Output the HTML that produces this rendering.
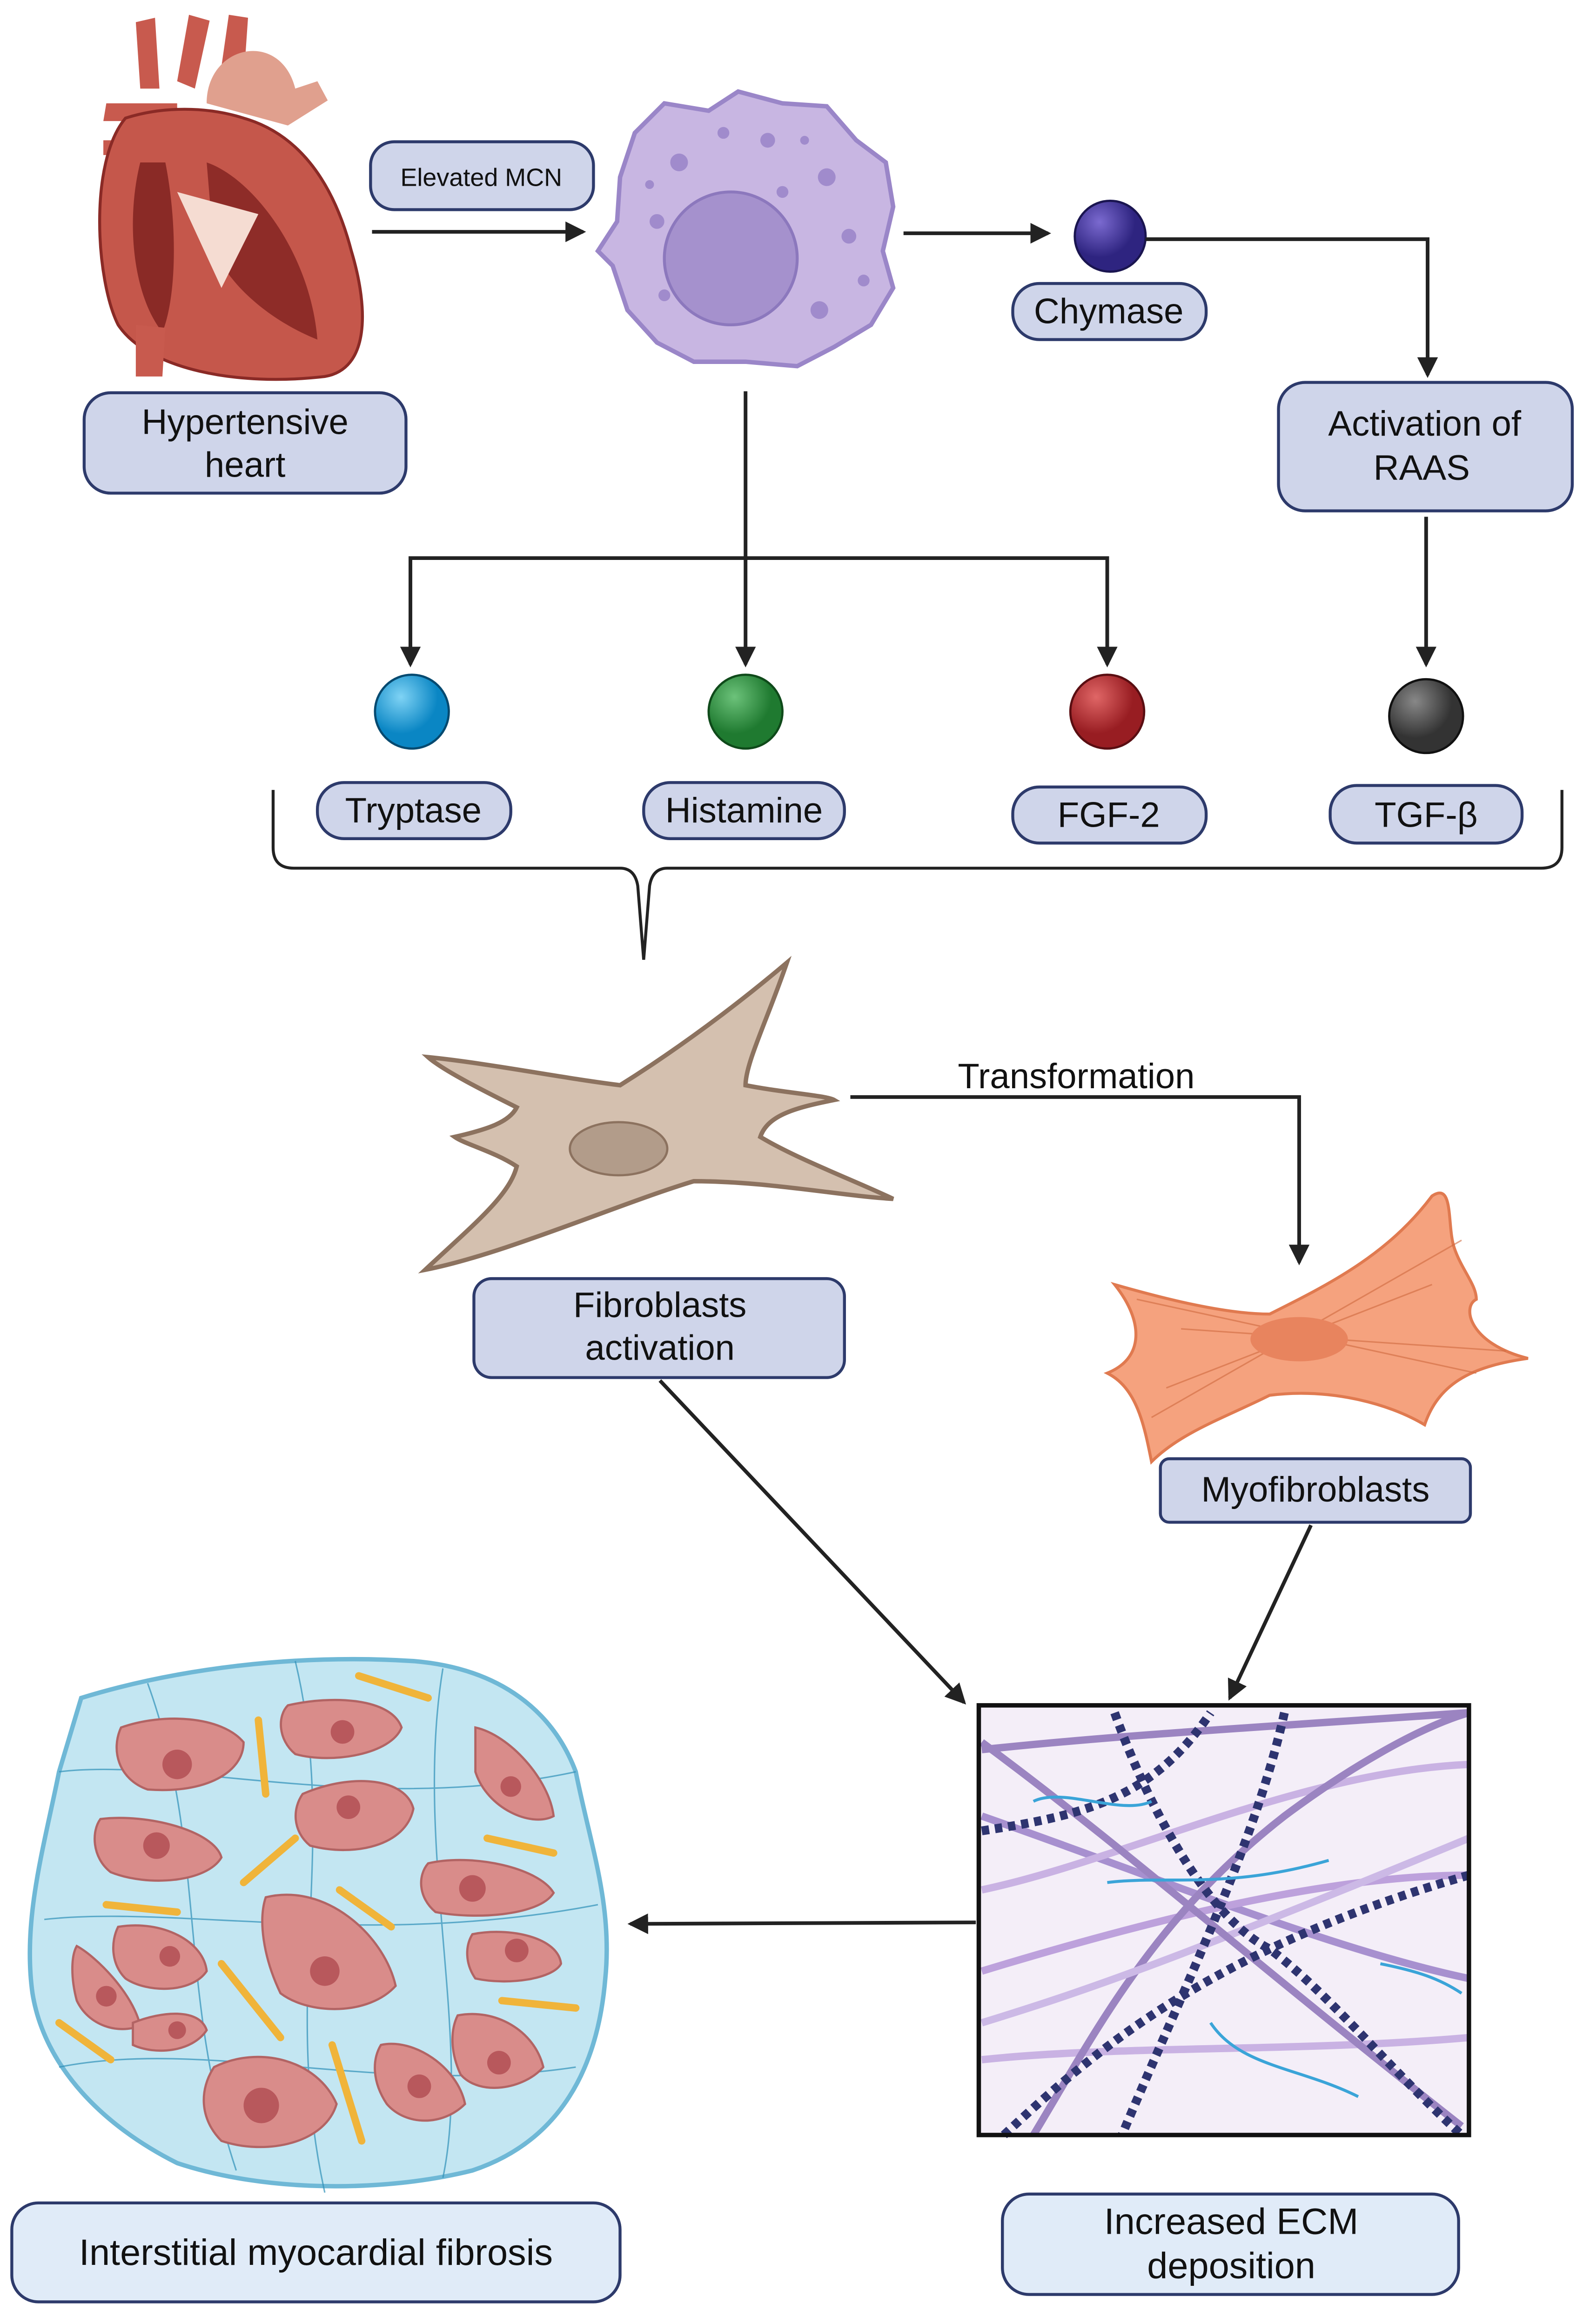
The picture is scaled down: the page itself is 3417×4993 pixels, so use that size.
<!DOCTYPE html>
<html><head><meta charset="utf-8"><style>
html,body{margin:0;padding:0;background:#fff;}
svg{display:block;}
text{font-family:"Liberation Sans",sans-serif;fill:#111;}
</style></head><body>
<svg width="3417" height="4993" viewBox="0 0 1077 1574" preserveAspectRatio="none" xmlns="http://www.w3.org/2000/svg">
<defs>
<marker id="ah" markerWidth="8" markerHeight="8" refX="6" refY="4" orient="auto" markerUnits="userSpaceOnUse"><path d="M0,0 L8,4 L0,8 z" fill="#222"/></marker>
<marker id="ah2" markerWidth="14" markerHeight="14" refX="12" refY="7" orient="auto" markerUnits="userSpaceOnUse"><path d="M0,0 L14,7 L0,14 z" fill="#222"/></marker>
<radialGradient id="gB" cx="35%" cy="30%"><stop offset="0" stop-color="#7fd3f5"/><stop offset="1" stop-color="#0a86c4"/></radialGradient>
<radialGradient id="gG" cx="35%" cy="30%"><stop offset="0" stop-color="#6cc27a"/><stop offset="1" stop-color="#1f7a30"/></radialGradient>
<radialGradient id="gR" cx="35%" cy="30%"><stop offset="0" stop-color="#e06666"/><stop offset="1" stop-color="#981d22"/></radialGradient>
<radialGradient id="gK" cx="35%" cy="30%"><stop offset="0" stop-color="#888"/><stop offset="1" stop-color="#333"/></radialGradient>
<radialGradient id="gP" cx="35%" cy="30%"><stop offset="0" stop-color="#7b6ad0"/><stop offset="1" stop-color="#2e2480"/></radialGradient>
</defs>

<!-- Heart -->
<g>
<path d="M95,60 L92,15 L105,12 L108,60 Z" fill="#c85a4e"/>
<path d="M120,55 L128,10 L142,14 L132,60 Z" fill="#c85a4e"/>
<path d="M150,45 L155,10 L168,12 L165,55 Z" fill="#c85a4e"/>
<path d="M140,70 C140,30 190,20 200,60 L215,55 L222,68 L195,85 Z" fill="#e0a08e"/>
<path d="M72,70 L120,70 L120,82 L70,82 Z M70,95 L110,95 L110,105 L70,105 Z" fill="#c85a4e"/>
<path d="M85,80 C60,110 65,190 80,220 C100,250 160,262 220,255 C250,250 250,210 238,170 C225,120 200,90 165,80 C140,72 110,72 85,80 Z" fill="#c5574b" stroke="#8a2a26" stroke-width="2"/>
<path d="M95,110 C85,150 90,200 110,225 C120,200 120,150 112,110 Z" fill="#8a2a26"/>
<path d="M140,110 C170,120 210,170 215,230 C190,220 160,200 145,170 Z" fill="#8e2c28"/>
<path d="M120,130 L175,145 L150,195 Z" fill="#f5dcd2"/>
<path d="M92,220 L92,255 L110,255 L112,222 Z" fill="#c85a4e"/>
</g>
<rect x="57" y="266" width="218" height="68" rx="18" fill="#cfd5ea" stroke="#2d3a6b" stroke-width="2"/>
<text x="166" y="294" font-size="24" text-anchor="middle">Hypertensive</text>
<text x="166" y="323" font-size="24" text-anchor="middle">heart</text>

<rect x="251" y="96" width="151" height="46" rx="16" fill="#cfd5ea" stroke="#2d3a6b" stroke-width="2"/>
<text x="326" y="126" font-size="17" text-anchor="middle">Elevated MCN</text>
<line x1="252" y1="157" x2="395" y2="157" stroke="#222" stroke-width="2.5" marker-end="url(#ah2)"/>

<!-- Mast cell -->
<path d="M430,90 L450,70 L480,75 L500,62 L530,70 L560,72 L580,95 L600,110 L605,140 L598,170 L605,195 L590,220 L565,235 L540,248 L505,245 L470,245 L445,232 L425,210 L415,180 L405,170 L418,150 L420,120 Z" fill="#c8b6e2" stroke="#9a86c8" stroke-width="3"/>
<circle cx="495" cy="175" r="45" fill="#a591cd" stroke="#8c78bd" stroke-width="2"/>
<g fill="#a08bcc">
<circle cx="460" cy="110" r="6"/><circle cx="520" cy="95" r="5"/><circle cx="560" cy="120" r="6"/><circle cx="575" cy="160" r="5"/><circle cx="445" cy="150" r="5"/><circle cx="555" cy="210" r="6"/><circle cx="450" cy="200" r="4"/><circle cx="490" cy="90" r="4"/><circle cx="585" cy="190" r="4"/><circle cx="530" cy="130" r="4"/><circle cx="440" cy="125" r="3"/><circle cx="545" cy="95" r="3"/>
</g>
<line x1="612" y1="158" x2="710" y2="158" stroke="#222" stroke-width="2.5" marker-end="url(#ah2)"/>

<circle cx="752" cy="160" r="24" fill="url(#gP)" stroke="#1a1550" stroke-width="1.5"/>
<rect x="686" y="192" width="131" height="38" rx="18" fill="#cfd5ea" stroke="#2d3a6b" stroke-width="2"/>
<text x="751" y="219" font-size="24" text-anchor="middle">Chymase</text>
<polyline points="776,162 967,162 967,254" fill="none" stroke="#222" stroke-width="2.5" marker-end="url(#ah2)"/>

<rect x="866" y="259" width="199" height="87" rx="18" fill="#cfd5ea" stroke="#2d3a6b" stroke-width="2"/>
<text x="965" y="295" font-size="24" text-anchor="middle">Activation of</text>
<text x="963" y="325" font-size="24" text-anchor="middle">RAAS</text>
<line x1="966" y1="350" x2="966" y2="450" stroke="#222" stroke-width="2.5" marker-end="url(#ah2)"/>

<line x1="505" y1="265" x2="505" y2="450" stroke="#222" stroke-width="2.5" marker-end="url(#ah2)"/>
<polyline points="278,450 278,378 750,378 750,450" fill="none" stroke="#222" stroke-width="2.5"/>
<line x1="278" y1="420" x2="278" y2="450" stroke="#222" stroke-width="2.5" marker-end="url(#ah2)"/>
<line x1="750" y1="420" x2="750" y2="450" stroke="#222" stroke-width="2.5" marker-end="url(#ah2)"/>

<circle cx="279" cy="482" r="25" fill="url(#gB)" stroke="#064a70" stroke-width="1.5"/>
<circle cx="505" cy="482" r="25" fill="url(#gG)" stroke="#0f4a1a" stroke-width="1.5"/>
<circle cx="750" cy="482" r="25" fill="url(#gR)" stroke="#5a0e12" stroke-width="1.5"/>
<circle cx="966" cy="485" r="25" fill="url(#gK)" stroke="#111" stroke-width="1.5"/>

<rect x="215" y="530" width="131" height="38" rx="18" fill="#cfd5ea" stroke="#2d3a6b" stroke-width="2"/>
<text x="280" y="557" font-size="24" text-anchor="middle">Tryptase</text>
<rect x="436" y="530" width="136" height="38" rx="18" fill="#cfd5ea" stroke="#2d3a6b" stroke-width="2"/>
<text x="504" y="557" font-size="24" text-anchor="middle">Histamine</text>
<rect x="686" y="533" width="131" height="38" rx="18" fill="#cfd5ea" stroke="#2d3a6b" stroke-width="2"/>
<text x="751" y="560" font-size="24" text-anchor="middle">FGF-2</text>
<rect x="901" y="532" width="130" height="39" rx="18" fill="#cfd5ea" stroke="#2d3a6b" stroke-width="2"/>
<text x="966" y="560" font-size="24" text-anchor="middle">TGF-β</text>

<path d="M185,535 L185,574 Q185,588 199,588 L420,588 Q430,588 432,600 L436,650 L440,600 Q442,588 452,588 L1044,588 Q1058,588 1058,574 L1058,535" fill="none" stroke="#222" stroke-width="2"/>

<!-- Fibroblast -->
<path d="M290,716 C330,720 380,730 420,735 C460,710 500,680 533,652 C520,690 505,720 505,735 C530,740 560,742 565,745 C540,750 520,755 515,770 C540,785 580,800 605,812 C570,810 520,800 470,800 C420,815 340,850 288,860 C320,830 345,810 350,790 C335,780 315,775 308,770 C330,765 345,760 350,750 C330,740 300,725 290,716 Z" fill="#d4c0af" stroke="#8c725f" stroke-width="3"/>
<ellipse cx="419" cy="778" rx="33" ry="18" fill="#b29c8a" stroke="#8c725f" stroke-width="1.5"/>

<text x="729" y="737" font-size="24" text-anchor="middle">Transformation</text>
<polyline points="576,743 880,743 880,855" fill="none" stroke="#222" stroke-width="2.5" marker-end="url(#ah2)"/>

<!-- Myofibroblast -->
<path d="M755,870 C790,880 830,890 860,890 C900,870 940,850 970,810 C985,800 980,830 985,845 C990,860 1000,870 1000,880 C990,885 995,910 1035,920 C1000,925 975,935 965,965 C940,950 900,940 860,945 C830,960 800,970 780,990 C775,965 770,940 750,930 C775,920 775,895 755,870 Z" fill="#f5a27e" stroke="#e07a50" stroke-width="2"/>
<g stroke="#d06a40" stroke-width="1" opacity="0.6">
<line x1="770" y1="880" x2="1000" y2="930"/><line x1="780" y1="960" x2="990" y2="840"/><line x1="800" y1="900" x2="1020" y2="915"/><line x1="790" y1="940" x2="970" y2="870"/>
</g>
<ellipse cx="880" cy="907" rx="33" ry="15" fill="#e8845e"/>

<rect x="321" y="866" width="251" height="67" rx="12" fill="#cfd5ea" stroke="#2d3a6b" stroke-width="2"/>
<text x="447" y="892" font-size="24" text-anchor="middle">Fibroblasts</text>
<text x="447" y="921" font-size="24" text-anchor="middle">activation</text>
<rect x="786" y="988" width="210" height="43" rx="6" fill="#cfd5ea" stroke="#2d3a6b" stroke-width="2"/>
<text x="891" y="1017" font-size="24" text-anchor="middle">Myofibroblasts</text>

<line x1="447" y1="935" x2="653" y2="1153" stroke="#222" stroke-width="2.5" marker-end="url(#ah2)"/>
<line x1="888" y1="1033" x2="833" y2="1150" stroke="#222" stroke-width="2.5" marker-end="url(#ah2)"/>

<!-- ECM -->
<rect x="663" y="1155" width="332" height="291" fill="#f4eef8"/>
<g fill="none" stroke-width="5" opacity="0.85">
<path d="M665,1185 C760,1175 850,1170 995,1160" stroke="#8c72b8"/>
<path d="M665,1230 C780,1270 900,1320 995,1340" stroke="#9a80c8"/>
<path d="M665,1280 C760,1260 880,1200 995,1195" stroke="#c2a8e0"/>
<path d="M665,1335 C780,1300 900,1270 995,1270" stroke="#b494d8"/>
<path d="M665,1395 C760,1385 880,1390 995,1380" stroke="#c2a8e0"/>
<path d="M700,1446 C740,1380 780,1300 870,1230 C910,1200 960,1170 995,1160" stroke="#8c72b8"/>
<path d="M665,1370 C730,1350 790,1330 995,1245" stroke="#c6b0e4"/>
<path d="M665,1180 C760,1250 850,1330 990,1440" stroke="#8c72b8"/>
</g>
<g fill="none" stroke="#2e3470" stroke-width="6" stroke-dasharray="5 4">
<path d="M755,1160 C780,1230 820,1300 860,1320 C900,1350 940,1400 990,1446"/>
<path d="M680,1446 C740,1390 820,1320 995,1270"/>
<path d="M665,1240 C730,1230 780,1220 820,1160"/>
<path d="M870,1160 C850,1250 800,1350 760,1446"/>
</g>
<g fill="none" stroke="#3aa4d8" stroke-width="2">
<path d="M700,1220 C720,1210 760,1230 780,1220"/>
<path d="M750,1275 C790,1270 830,1280 900,1260"/>
<path d="M820,1370 C840,1400 880,1400 920,1420"/>
<path d="M935,1330 C960,1335 975,1340 990,1350"/>
</g>
<rect x="663" y="1155" width="332" height="291" fill="none" stroke="#111" stroke-width="3"/>

<line x1="661" y1="1302" x2="427" y2="1303" stroke="#222" stroke-width="2.5" marker-end="url(#ah2)"/>

<!-- Tissue -->
<path d="M55,1150 C120,1130 200,1120 280,1125 C340,1130 375,1160 390,1200 C400,1250 415,1290 410,1340 C405,1400 380,1450 320,1470 C260,1485 180,1485 120,1465 C70,1440 30,1400 22,1350 C15,1300 30,1250 40,1200 Z" fill="#c3e6f2" stroke="#6fb8d6" stroke-width="3"/>
<g fill="none" stroke="#2f90b8" stroke-width="1" opacity="0.7">
<path d="M40,1200 C120,1190 250,1230 390,1200"/><path d="M30,1300 C120,1290 250,1320 405,1290"/><path d="M40,1400 C140,1380 260,1420 390,1400"/><path d="M100,1140 C140,1250 120,1350 160,1470"/><path d="M300,1130 C280,1250 320,1380 300,1475"/><path d="M200,1125 C230,1250 190,1350 220,1485"/>
</g>
<g fill="#d98c8a" stroke="#b26464" stroke-width="1.5">
<path d="M82,1170 C110,1160 150,1162 165,1180 C165,1200 140,1215 100,1212 C80,1205 75,1185 82,1170 Z"/>
<path d="M195,1155 C225,1148 265,1150 272,1170 C265,1188 225,1195 200,1188 C188,1178 188,1162 195,1155 Z"/>
<path d="M322,1170 C345,1175 372,1205 375,1230 C360,1238 330,1225 322,1200 Z"/>
<path d="M205,1215 C240,1200 275,1205 280,1225 C275,1250 240,1258 210,1250 C198,1240 198,1225 205,1215 Z"/>
<path d="M68,1232 C100,1228 145,1240 150,1258 C140,1275 100,1278 75,1268 C62,1258 62,1240 68,1232 Z"/>
<path d="M290,1262 C320,1255 365,1265 375,1282 C365,1298 320,1300 295,1295 C283,1285 283,1270 290,1262 Z"/>
<path d="M180,1285 C220,1275 260,1310 268,1345 C250,1365 210,1365 190,1350 C178,1325 175,1300 180,1285 Z"/>
<path d="M80,1305 C110,1300 138,1315 140,1335 C130,1350 100,1350 85,1340 C75,1330 75,1315 80,1305 Z"/>
<path d="M320,1310 C345,1305 378,1312 380,1330 C375,1340 345,1345 322,1340 C315,1330 315,1318 320,1310 Z"/>
<path d="M52,1318 C65,1325 90,1350 95,1372 C80,1378 60,1372 52,1355 C48,1340 48,1325 52,1318 Z"/>
<path d="M90,1370 C110,1362 135,1360 140,1375 C130,1390 105,1392 90,1385 Z"/>
<path d="M310,1365 C335,1360 362,1375 368,1400 C355,1415 325,1420 312,1405 C305,1390 305,1375 310,1365 Z"/>
<path d="M258,1385 C280,1380 310,1400 315,1425 C300,1440 275,1440 262,1425 C252,1410 252,1395 258,1385 Z"/>
<path d="M145,1400 C175,1385 215,1395 228,1425 C220,1452 180,1460 150,1450 C135,1435 135,1415 145,1400 Z"/>
</g>
<g fill="#b8585c">
<circle cx="120" cy="1195" r="10"/><circle cx="232" cy="1173" r="8"/><circle cx="346" cy="1210" r="7"/><circle cx="236" cy="1224" r="8"/><circle cx="106" cy="1250" r="9"/><circle cx="320" cy="1279" r="9"/><circle cx="220" cy="1335" r="10"/><circle cx="115" cy="1325" r="7"/><circle cx="350" cy="1321" r="8"/><circle cx="72" cy="1352" r="7"/><circle cx="120" cy="1375" r="6"/><circle cx="338" cy="1397" r="8"/><circle cx="284" cy="1413" r="8"/><circle cx="177" cy="1426" r="12"/>
</g>
<g stroke="#f0b43a" stroke-width="5" stroke-linecap="round">
<line x1="243" y1="1135" x2="290" y2="1150"/><line x1="175" y1="1165" x2="180" y2="1215"/><line x1="165" y1="1275" x2="200" y2="1245"/><line x1="330" y1="1245" x2="375" y2="1255"/><line x1="72" y1="1290" x2="120" y2="1295"/><line x1="230" y1="1280" x2="265" y2="1305"/><line x1="150" y1="1330" x2="190" y2="1380"/><line x1="340" y1="1355" x2="390" y2="1360"/><line x1="40" y1="1370" x2="75" y2="1395"/><line x1="225" y1="1385" x2="245" y2="1450"/>
</g>

<rect x="8" y="1492" width="412" height="67" rx="18" fill="#e0ebf8" stroke="#2d3a6b" stroke-width="2"/>
<text x="214" y="1534" font-size="25" text-anchor="middle">Interstitial myocardial fibrosis</text>
<rect x="679" y="1486" width="309" height="68" rx="18" fill="#e0ebf8" stroke="#2d3a6b" stroke-width="2"/>
<text x="834" y="1513" font-size="25" text-anchor="middle">Increased ECM</text>
<text x="834" y="1543" font-size="25" text-anchor="middle">deposition</text>
</svg>
</body></html>
